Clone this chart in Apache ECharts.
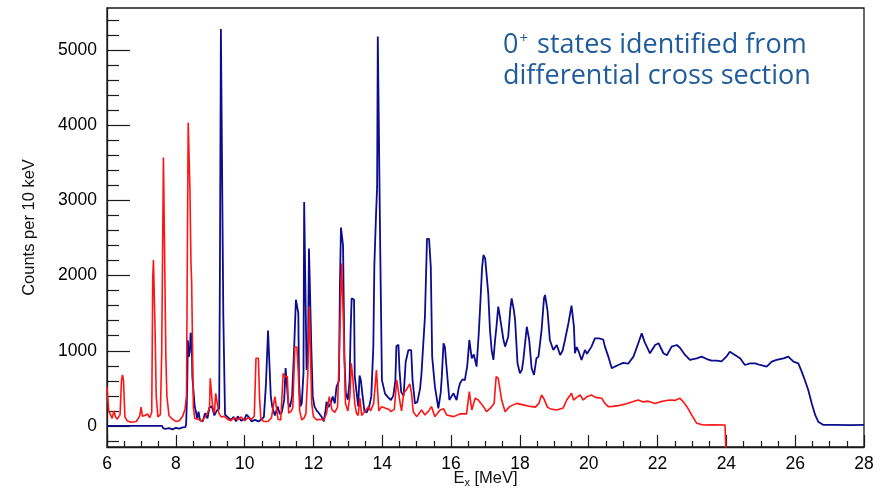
<!DOCTYPE html>
<html>
<head>
<meta charset="utf-8">
<script src="https://cdn.jsdelivr.net/npm/echarts@6/dist/echarts.min.js"></script>
<style>
  html, body { margin: 0; padding: 0; background: #ffffff; }
  #chart { width: 887px; height: 489px; }
</style>
</head>
<body>
<div id="chart"></div>
<script>
// Excitation-energy spectra, counts per 10 keV bin: [E_x (MeV), counts]
const blueSpectrum = [
  [6.00, 0], [7.60, 0], [7.63, -30], [7.70, -40], [7.80, -30], [7.90, -45], [8.00, -25], [8.10, -35], [8.20, -20], [8.28, -15],
  [8.30, 30], [8.33, 480], [8.35, 1140], [8.38, 920], [8.41, 1000], [8.43, 1240], [8.46, 1200], [8.48, 655], [8.52, 640], [8.55, 256],
  [8.58, 200], [8.62, 100], [8.66, 190], [8.70, 80], [8.78, 60], [8.85, 170], [8.92, 100], [8.98, 250], [9.05, 260], [9.12, 140],
  [9.20, 210], [9.26, 230], [9.28, 1910], [9.31, 5280], [9.36, 5280], [9.38, 1476], [9.41, 1476], [9.43, 150], [9.50, 120], [9.60, 80],
  [9.68, 120], [9.75, 60], [9.80, 130], [9.90, 70], [10.00, 90], [10.05, 150], [10.12, 120], [10.20, 60], [10.30, 80], [10.40, 60],
  [10.50, 90], [10.56, 120], [10.62, 560], [10.66, 560], [10.68, 1270], [10.73, 1270], [10.76, 400], [10.80, 260], [10.88, 140], [10.96, 260],
  [11.02, 160], [11.08, 180], [11.15, 350], [11.19, 770], [11.24, 760], [11.27, 300], [11.32, 250], [11.38, 400], [11.44, 1050], [11.49, 1680],
  [11.53, 1680], [11.56, 1500], [11.58, 600], [11.62, 260], [11.66, 300], [11.71, 700], [11.73, 2980], [11.77, 2980], [11.80, 745], [11.84, 900],
  [11.87, 2360], [11.92, 2360], [11.94, 1010], [11.98, 390], [12.03, 257], [12.10, 200], [12.16, 170], [12.24, 120], [12.30, 60], [12.35, 200],
  [12.38, 320], [12.44, 250], [12.50, 300], [12.56, 390], [12.62, 300], [12.67, 520], [12.74, 600], [12.77, 1900], [12.80, 2640], [12.84, 2640],
  [12.86, 2400], [12.90, 900], [12.94, 440], [13.00, 350], [13.05, 600], [13.08, 1260], [13.11, 1700], [13.18, 1680], [13.20, 660], [13.25, 640],
  [13.30, 260], [13.34, 670], [13.38, 600], [13.42, 430], [13.48, 200], [13.55, 180], [13.62, 260], [13.68, 390], [13.74, 1050], [13.77, 2140],
  [13.82, 2830], [13.85, 3180], [13.87, 5180], [13.92, 5180], [13.94, 2370], [13.97, 2370], [13.99, 610], [14.03, 620], [14.08, 430], [14.15, 390],
  [14.25, 345], [14.32, 400], [14.38, 600], [14.41, 1060], [14.47, 1080], [14.50, 745], [14.55, 450], [14.62, 400], [14.68, 850], [14.76, 1010],
  [14.84, 1010], [14.88, 610], [14.95, 300], [15.02, 320], [15.10, 500], [15.14, 700], [15.24, 1454], [15.30, 2490], [15.36, 2490], [15.41, 2118],
  [15.45, 922], [15.53, 523], [15.63, 235], [15.70, 450], [15.73, 656], [15.78, 1100], [15.82, 1050], [15.87, 767], [15.95, 345], [16.02, 400],
  [16.07, 434], [16.16, 345], [16.22, 500], [16.26, 567], [16.33, 620], [16.40, 610], [16.47, 800], [16.53, 1144], [16.60, 900], [16.66, 950],
  [16.74, 790], [16.80, 1200], [16.84, 1542], [16.90, 2100], [16.94, 2274], [16.99, 2230], [17.01, 2207], [17.08, 1764], [17.13, 1277], [17.18, 1000],
  [17.23, 878], [17.28, 1150], [17.31, 1277], [17.37, 1587], [17.42, 1450], [17.47, 1432], [17.52, 1150], [17.57, 1055], [17.66, 1188], [17.72, 1550],
  [17.76, 1698], [17.82, 1550], [17.86, 1410], [17.93, 833], [18.00, 700], [18.06, 750], [18.10, 878], [18.20, 1320], [18.27, 1144], [18.34, 767],
  [18.41, 678], [18.48, 900], [18.54, 922], [18.63, 1277], [18.70, 1700], [18.73, 1742], [18.80, 1542], [18.87, 1144], [18.97, 1010], [19.07, 1077],
  [19.17, 944], [19.24, 1000], [19.31, 1144], [19.41, 1366], [19.50, 1600], [19.57, 1320], [19.60, 967], [19.65, 1050], [19.70, 1000], [19.79, 878],
  [19.89, 1010], [19.95, 960], [20.08, 1055], [20.18, 1166], [20.30, 1166], [20.42, 1150], [20.47, 1055], [20.57, 922], [20.67, 767], [20.76, 790],
  [20.86, 811], [21.00, 840], [21.15, 830], [21.30, 922], [21.44, 1100], [21.54, 1232], [21.62, 1122], [21.78, 967], [21.93, 1077], [22.03, 1100],
  [22.17, 967], [22.27, 940], [22.41, 1055], [22.56, 1077], [22.65, 1040], [22.80, 944], [22.94, 878], [23.14, 900], [23.28, 922], [23.43, 890],
  [23.57, 870], [23.72, 870], [23.86, 860], [24.00, 922], [24.10, 988], [24.25, 944], [24.40, 900], [24.54, 811], [24.69, 833], [24.84, 833],
  [24.98, 811], [25.17, 789], [25.32, 855], [25.46, 878], [25.66, 900], [25.80, 922], [25.95, 855], [26.09, 833], [26.19, 722], [26.28, 611],
  [26.38, 479], [26.48, 301], [26.58, 146], [26.67, 57], [26.82, 13], [27.20, 15], [27.60, 12], [28.00, 13]
];

const redSpectrum = [
  [6.00, 520], [6.03, 520], [6.05, 200], [6.10, 210], [6.15, 100], [6.20, 200], [6.25, 120], [6.30, 90], [6.38, 150], [6.42, 600],
  [6.45, 680], [6.48, 600], [6.52, 120], [6.58, 70], [6.70, 50], [6.85, 60], [6.95, 130], [6.99, 250], [7.03, 130], [7.10, 140],
  [7.18, 160], [7.24, 110], [7.30, 180], [7.33, 1980], [7.35, 2207], [7.38, 2207], [7.40, 1210], [7.43, 400], [7.48, 120], [7.55, 150],
  [7.59, 970], [7.62, 970], [7.64, 3570], [7.69, 3570], [7.71, 944], [7.74, 400], [7.80, 140], [7.90, 90], [8.00, 60], [8.10, 70],
  [8.20, 130], [8.27, 230], [8.31, 400], [8.33, 1940], [8.36, 4035], [8.39, 4035], [8.41, 3138], [8.44, 2180], [8.46, 1920], [8.49, 1920],
  [8.51, 250], [8.55, 100], [8.65, 90], [8.75, 60], [8.85, 120], [8.92, 170], [8.98, 250], [9.00, 634], [9.04, 634], [9.07, 257],
  [9.12, 170], [9.16, 434], [9.21, 434], [9.25, 170], [9.32, 120], [9.40, 130], [9.50, 90], [9.60, 70], [9.70, 110], [9.80, 80],
  [9.90, 120], [10.00, 70], [10.10, 110], [10.20, 90], [10.28, 130], [10.33, 900], [10.40, 900], [10.43, 412], [10.47, 100], [10.55, 60],
  [10.68, 60], [10.78, 110], [10.88, 390], [10.93, 390], [10.97, 90], [11.05, 80], [11.12, 700], [11.17, 656], [11.24, 656], [11.28, 170],
  [11.36, 200], [11.40, 250], [11.46, 1050], [11.52, 1050], [11.56, 700], [11.60, 200], [11.66, 80], [11.72, 100], [11.78, 160], [11.84, 745],
  [11.88, 1590], [11.92, 1590], [11.95, 300], [12.00, 120], [12.10, 80], [12.20, 90], [12.30, 80], [12.38, 170], [12.46, 390], [12.50, 390],
  [12.54, 215], [12.62, 180], [12.70, 250], [12.76, 1100], [12.80, 1875], [12.82, 2160], [12.87, 2160], [12.89, 1100], [12.93, 300], [13.00, 200],
  [13.06, 400], [13.10, 833], [13.14, 656], [13.20, 300], [13.25, 170], [13.30, 140], [13.35, 370], [13.40, 140], [13.50, 200], [13.60, 257],
  [13.66, 200], [13.75, 300], [13.83, 745], [13.86, 745], [13.90, 200], [13.98, 257], [14.08, 240], [14.20, 220], [14.25, 190], [14.35, 220],
  [14.42, 612], [14.47, 620], [14.52, 300], [14.56, 200], [14.62, 434], [14.70, 480], [14.80, 560], [14.85, 434], [14.90, 190], [15.00, 124],
  [15.14, 212], [15.24, 146], [15.35, 200], [15.43, 257], [15.53, 124], [15.68, 212], [15.78, 230], [15.87, 146], [16.07, 124], [16.26, 160],
  [16.45, 160], [16.53, 456], [16.60, 212], [16.70, 368], [16.79, 345], [16.87, 300], [16.95, 250], [17.03, 190], [17.15, 240], [17.25, 300],
  [17.31, 656], [17.37, 634], [17.47, 345], [17.57, 190], [17.70, 257], [17.90, 300], [18.10, 280], [18.30, 260], [18.45, 250], [18.55, 300],
  [18.63, 412], [18.70, 360], [18.80, 250], [18.87, 230], [19.07, 212], [19.26, 240], [19.36, 345], [19.50, 434], [19.56, 345], [19.65, 380],
  [19.75, 412], [19.84, 345], [19.95, 390], [20.08, 412], [20.20, 380], [20.38, 368], [20.47, 300], [20.57, 257], [20.70, 260], [20.86, 270],
  [21.05, 290], [21.25, 320], [21.44, 345], [21.58, 320], [21.73, 330], [21.93, 300], [22.07, 320], [22.22, 335], [22.36, 345], [22.50, 340],
  [22.65, 368], [22.75, 320], [22.85, 260], [22.99, 146], [23.14, 35], [23.33, 13], [23.60, 15], [23.96, 13], [24.00, 13], [24.01, -600]
];

// Axis ticks
const xTickStep = 2;
const yLabelValues = [0, 1000, 2000, 3000, 4000, 5000];
const yMinorValues = [-200, 200, 400, 600, 800, 1200, 1400, 1600, 1800, 2200, 2400, 2600, 2800,
  3200, 3400, 3600, 3800, 4200, 4400, 4600, 4800, 5200, 5400];

const axisColor = '#1a1a1a';
const labelFont = 'Liberation Sans';
const noteColor = '#1f5c9c';

const chart = echarts.init(document.getElementById('chart'), null, { renderer: 'canvas' });

chart.setOption({
  animation: false,
  backgroundColor: '#ffffff',
  grid: {
    left: 107, right: 23, top: 8, bottom: 42,
    outerBoundsMode: 'none',
    show: true, borderColor: axisColor, borderWidth: 1.3
  },
  xAxis: {
    type: 'value', min: 6, max: 28, interval: xTickStep,
    axisLine: { show: true, onZero: false, lineStyle: { color: axisColor, width: 1.3 } },
    axisTick: { inside: true, length: 12, lineStyle: { color: axisColor, width: 1.2 } },
    minorTick: { show: true, splitNumber: 4, length: 6, lineStyle: { color: axisColor, width: 1.2 } },
    splitLine: { show: false },
    axisLabel: {
      fontFamily: labelFont, fontSize: 17.5, color: '#000', margin: 8,
      showMinLabel: true, showMaxLabel: true, formatter: (v) => String(v)
    },
    name: '{n|E}{s|x}{n| [MeV]}',
    nameLocation: 'middle', nameGap: 22, nameMoveOverlap: false,
    nameTextStyle: {
      rich: {
        n: { fontFamily: labelFont, fontSize: 16.5, color: '#111' },
        s: { fontFamily: labelFont, fontSize: 11, color: '#111', padding: [8, 0, 0, 0] }
      }
    }
  },
  yAxis: [
    {
      type: 'value', min: -280, max: 5560,
      axisLine: { show: true, onZero: false, lineStyle: { color: axisColor, width: 1.3 } },
      axisTick: { inside: true, length: 23, customValues: yLabelValues, lineStyle: { color: axisColor, width: 1.2 } },
      axisLabel: {
        customValues: yLabelValues, fontFamily: labelFont, fontSize: 17.5, color: '#000', margin: 10,
        formatter: (v) => String(v)
      },
      splitLine: { show: false },
      name: 'Counts per 10 keV', nameLocation: 'middle', nameGap: 69, nameMoveOverlap: false,
      nameTextStyle: { fontFamily: labelFont, fontSize: 16.5, color: '#111' }
    },
    {
      type: 'value', min: -280, max: 5560, position: 'left',
      axisLine: { show: false },
      axisTick: { show: true, inside: true, length: 12, customValues: yMinorValues, lineStyle: { color: axisColor, width: 1.2 } },
      axisLabel: { show: false },
      splitLine: { show: false }
    }
  ],
  graphic: [
    {
      type: 'text', left: 503, top: 31, silent: true,
      style: {
        text: '{m|0}{p|+}{m| states identified from}\n{m|differential cross section}',
        rich: {
          m: { fontFamily: 'Open Sans', fontSize: 27, fill: noteColor, lineHeight: 31 },
          p: { fontFamily: 'Open Sans', fontSize: 15, fill: noteColor, lineHeight: 31, padding: [0, 2, 13, 1] }
        }
      }
    }
  ],
  series: [
    {
      type: 'line', name: 'all', data: blueSpectrum, yAxisIndex: 0,
      showSymbol: false, clip: true,
      lineStyle: { color: '#0c0c8e', width: 1.8 }
    },
    {
      type: 'line', name: '0+', data: redSpectrum, yAxisIndex: 0,
      showSymbol: false, clip: true,
      lineStyle: { color: '#ff1414', width: 1.6 }
    }
  ]
});
</script>
</body>
</html>
